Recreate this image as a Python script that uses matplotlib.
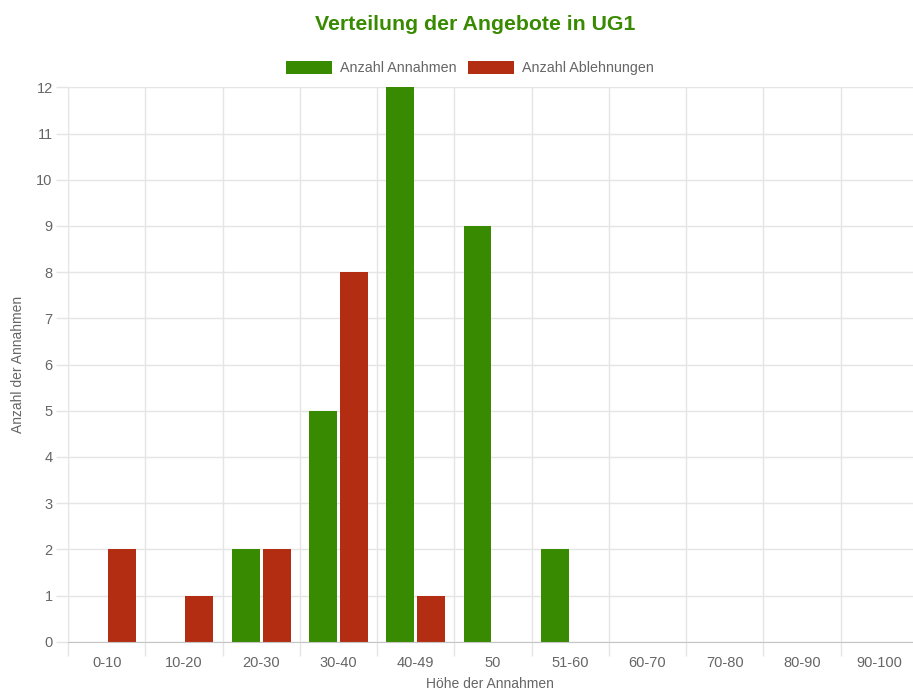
import matplotlib
matplotlib.use("Agg")
import matplotlib.pyplot as plt
import numpy as np

categories = ["0-10", "10-20", "20-30", "30-40", "40-49", "50", "51-60",
              "60-70", "70-80", "80-90", "90-100"]
annahmen = [0, 0, 2, 5, 12, 9, 2, 0, 0, 0, 0]
ablehnungen = [2, 1, 2, 8, 1, 0, 0, 0, 0, 0, 0]
y_ticks = list(range(0, 13))

title = "Verteilung der Angebote in UG1"
label_a = "Anzahl Annahmen"
label_b = "Anzahl Ablehnungen"
xlabel = "Höhe der Annahmen"
ylabel = "Anzahl der Annahmen"

GREEN = "#388a00"
RED = "#b22d12"
TEXT = "#666666"
GRID = "#e5e5e5"

plt.rcParams['font.family'] = ['Liberation Sans', 'DejaVu Sans']

W, H = 913, 691
fig = plt.figure(figsize=(W / 100, H / 100), dpi=100)
ax = fig.add_axes([68 / W, (H - 641.7) / H, (918 - 68) / W, (641.7 - 87.3) / H])

x = np.arange(len(categories))
bw = 0.36
ax.bar(x - 0.2, annahmen, width=bw, color=GREEN, label=label_a, zorder=3)
ax.bar(x + 0.2, ablehnungen, width=bw, color=RED, label=label_b, zorder=3)

ax.set_xlim(-0.5, len(categories) - 0.5)
ax.set_ylim(0, 12)

ax.set_xticks(x)
ax.set_xticklabels(categories)
ax.set_xticks(np.arange(len(categories) + 1) - 0.5, minor=True)
ax.tick_params(axis='x', which='major', length=0, pad=10, labelsize=10.5, labelcolor=TEXT)
ax.tick_params(axis='x', which='minor', length=10, color=GRID, width=1)
ax.set_yticks(y_ticks)
ax.tick_params(axis='y', length=9, color=GRID, width=1, pad=2, labelsize=10.5, labelcolor=TEXT)

ax.grid(True, axis='x', which='minor', color=GRID, linewidth=1, zorder=0)
ax.grid(True, axis='y', which='major', color=GRID, linewidth=1, zorder=0)
ax.grid(False, axis='x', which='major')

for s in ['top', 'right']:
    ax.spines[s].set_visible(False)
ax.spines['left'].set_color(GRID)
ax.spines['bottom'].set_color("#c4c4c4")
ax.spines['bottom'].set_zorder(4)

fig.text(490 / W, 1 - 684 / H, xlabel, ha='center', va='center', fontsize=10, color=TEXT)
fig.text(18 / W, 1 - 364 / H, ylabel, ha='center', va='center', fontsize=10,
         color=TEXT, rotation=90)

fig.text(475 / W, 1 - 24 / H, title, ha='center', va='center', fontsize=15.3,
         fontweight='bold', color=GREEN)

leg = fig.legend(loc='center', bbox_to_anchor=(470 / W, 1 - 68 / H), ncol=2,
                 frameon=False, fontsize=10.3, handlelength=3.2, handleheight=1.0,
                 handletextpad=0.55, columnspacing=0.85, labelcolor=TEXT)

fig.savefig("out.png", dpi=100)
